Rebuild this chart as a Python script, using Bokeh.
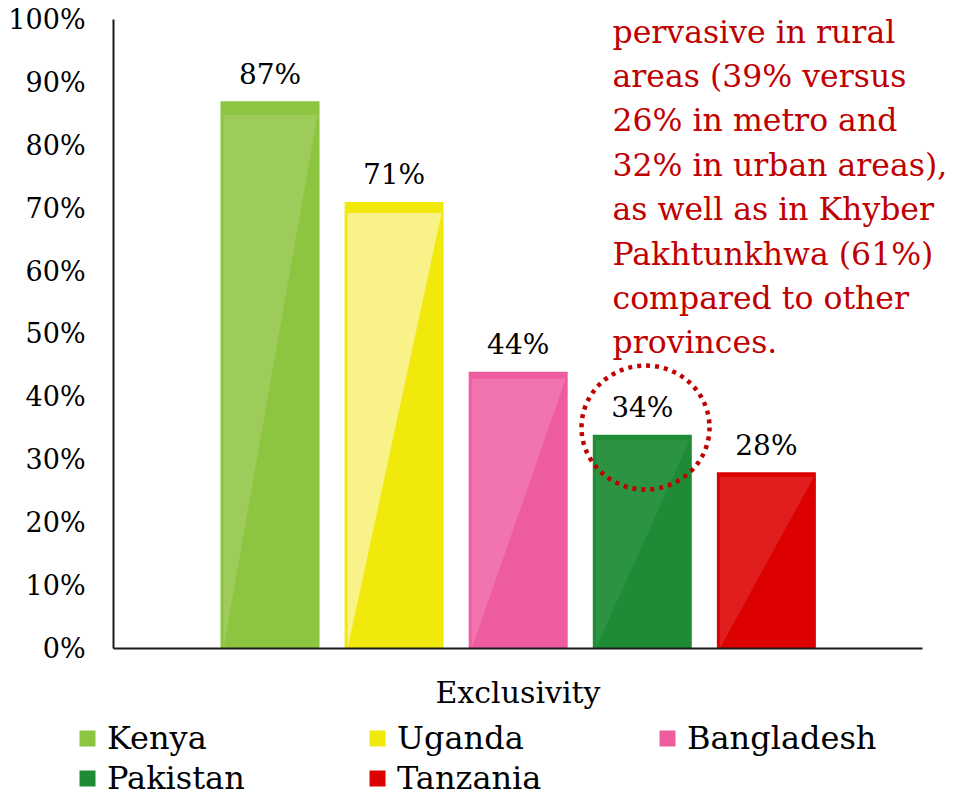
from bokeh.plotting import figure
from bokeh.models import (ColumnDataSource, Legend, LegendItem, Label, FixedTicker)
from bokeh.core.properties import value
from bokeh.embed import file_html
from bokeh.resources import INLINE

# ---- data ----
countries = ["Kenya", "Uganda", "Bangladesh", "Pakistan", "Tanzania"]
exclusivity = [87, 71, 44, 34, 28]
bar_colors = ["#8DC540", "#F2E90C", "#EE5CA0", "#1F8B35", "#DC0000"]
shine_colors = ["#9DCC5B", "#F8F288", "#F274AE", "#2C9342", "#E01E1E"]
value_labels = ["87%", "71%", "44%", "34%", "28%"]
y_ticks = [0, 10, 20, 30, 40, 50, 60, 70, 80, 90, 100]
y_tick_labels = ["0%", "10%", "20%", "30%", "40%", "50%", "60%", "70%", "80%", "90%", "100%"]
category_label = "Exclusivity"
note_lines = [
    "pervasive in rural",
    "areas (39% versus",
    "26% in metro and",
    "32% in urban areas),",
    "as well as in Khyber",
    "Pakhtunkhwa (61%)",
    "compared to other",
    "provinces.",
]

FONT = "DejaVu Serif"
RED = "#C00000"

idx = list(range(len(countries)))
BAR_W = 0.798
X_AXIS_BOUNDS = (-1.261, 5.258)

src = ColumnDataSource(dict(x=idx, top=exclusivity, color=bar_colors,
                            label=value_labels, name=countries))

# frame covers the whole canvas; axes are drawn at fixed locations inside it
p = figure(width=953, height=797, output_backend="svg", toolbar_location=None,
           x_range=(-2.172, 5.508), y_range=(-23.69, 103.02),
           min_border_left=0, min_border_right=0,
           min_border_top=0, min_border_bottom=0)
p.outline_line_color = None
p.xgrid.visible = False
p.ygrid.visible = False
p.background_fill_color = "white"
p.border_fill_color = "white"

bars = p.vbar(x="x", top="top", width=BAR_W, bottom=0, source=src,
              fill_color="color", line_color=None)

# glossy triangular highlight inside each bar
xs, ys = [], []
for i, v in zip(idx, exclusivity):
    left = i - BAR_W / 2 + 0.024
    right = i + BAR_W / 2 - 0.016
    top = v * 0.975
    xs.append([left, right, left])
    ys.append([top, top, 0])
p.patches(xs=xs, ys=ys, fill_color=shine_colors, line_color=None)

# value labels
p.text(x="x", y="top", text="label", source=src, text_align="center",
       text_baseline="middle", y_offset=-27, text_font=value(FONT),
       text_font_size="28px", text_color="#000000")

# dotted highlight circle around Pakistan label
p.ellipse(x=[3.026], y=[35.13], width=[128], height=[124],
          width_units="screen", height_units="screen",
          fill_color=None, line_color=RED, line_width=4.5, line_dash="4 5")

# axes
p.yaxis.fixed_location = X_AXIS_BOUNDS[0]
p.yaxis.bounds = (0, 100)
p.yaxis.ticker = FixedTicker(ticks=y_ticks)
p.yaxis.major_label_overrides = {t: l for t, l in zip(y_ticks, y_tick_labels)}
p.yaxis.major_tick_line_color = None
p.yaxis.minor_tick_line_color = None
p.yaxis.major_label_standoff = 22
p.yaxis.major_label_text_font = FONT
p.yaxis.major_label_text_font_size = "27px"
p.yaxis.major_label_text_color = "#000000"
p.yaxis.axis_line_color = "#1a1a1a"
p.yaxis.axis_line_width = 2

p.xaxis.fixed_location = 0
p.xaxis.bounds = X_AXIS_BOUNDS
p.xaxis.ticker = FixedTicker(ticks=[])
p.xaxis.major_tick_line_color = None
p.xaxis.minor_tick_line_color = None
p.xaxis.axis_line_color = "#1a1a1a"
p.xaxis.axis_line_width = 2
p.xaxis.axis_label = category_label
p.xaxis.axis_label_text_font = FONT
p.xaxis.axis_label_text_font_size = "30px"
p.xaxis.axis_label_text_font_style = "normal"
p.xaxis.axis_label_text_color = "#000000"
p.xaxis.axis_label_standoff = 26

# note text
for k, line in enumerate(note_lines):
    p.add_layout(Label(x=2.76, y=98.09 - 7.059 * k, text=line,
                       text_font=FONT, text_font_size="31.5px",
                       text_color=RED, text_baseline="middle"))

# legend
items = []
for i, c in enumerate(countries):
    items.append(LegendItem(label=c, renderers=[bars], index=i))
legend = Legend(items=items, ncols=3, orientation="horizontal",
                location=(77, 0.5),
                glyph_width=20, glyph_height=20, label_standoff=10,
                label_width=258, spacing=2, padding=0, margin=0,
                border_line_color=None, background_fill_alpha=0,
                label_text_font=FONT, label_text_font_size="32px",
                label_text_color="#000000")
p.add_layout(legend, "center")

open("out.html", "w").write(file_html(p, INLINE))
